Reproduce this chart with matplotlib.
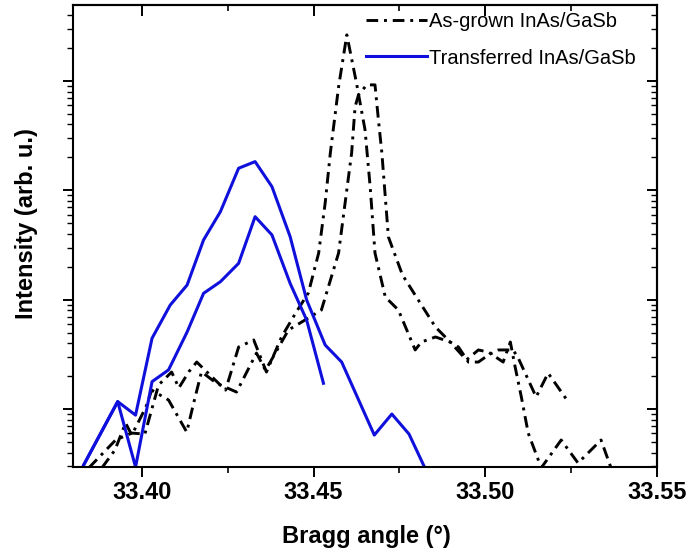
import matplotlib
matplotlib.use('Agg')
import matplotlib.pyplot as plt
from matplotlib.ticker import MultipleLocator, NullFormatter, FormatStrFormatter, LogLocator
from matplotlib.lines import Line2D

plt.rcParams['font.family'] = ['Liberation Sans', 'DejaVu Sans']

# ---------------- data ----------------
asgrown_a_x = [33.3846, 33.3924, 33.3971, 33.4009, 33.4049, 33.4087, 33.4108, 33.4137, 33.4160,
               33.4244, 33.4282, 33.4326, 33.4363, 33.4407, 33.4448, 33.4485, 33.4515, 33.4534,
               33.4549, 33.4573, 33.4597, 33.4625, 33.4650, 33.4665, 33.4679, 33.4709, 33.4747,
               33.4796, 33.4814, 33.4855, 33.4898, 33.4945, 33.4980, 33.5009, 33.5052, 33.5073,
               33.5087, 33.5105, 33.5125, 33.5163, 33.5221, 33.5270, 33.5337, 33.5366]
asgrown_a_y = [2.9, 5.21, 6.03, 5.9, 16.6, 21.8, 15.6, 21.9, 26.9,
               14.9, 36.9, 42.8, 21.8, 45.6, 75.5, 115.2, 267, 767,
               2198, 8836, 26400, 9610, 3569, 1074, 267, 105.8, 80.5,
               34.7, 41.0, 45.6, 41.0, 28.1, 34.7, 33.2, 26.9, 41.0,
               24.2, 12.9, 6.03, 2.9, 5.21, 3.21, 5.21, 2.9]

asgrown_b_x = [33.3884, 33.3922, 33.3953, 33.3971, 33.4012, 33.4029, 33.4078, 33.4131, 33.4151,
               33.4174, 33.4218, 33.4276, 33.4334, 33.4360, 33.4374, 33.4427, 33.4485, 33.4523,
               33.4573, 33.4592, 33.4611, 33.4621, 33.4631, 33.4655, 33.4679, 33.4689, 33.4699,
               33.4718, 33.4759, 33.4855, 33.4898, 33.4922, 33.4951, 33.4980, 33.5009, 33.5038,
               33.5081, 33.5096, 33.5148, 33.5183, 33.5241]
asgrown_b_y = [2.9, 4.22, 7.45, 5.78, 10.4, 14.9, 12.1, 6.16, 11.3,
               21.9, 17.2, 14.3, 32.5, 22.7, 26.9, 52.8, 68.0, 80.5,
               267, 767, 2198, 5794, 7464, 9210, 9210, 4406, 2198,
               375, 168, 56.2, 41.0, 36.9, 26.9, 26.9, 31.2, 34.7,
               34.7, 29.3, 12.9, 21.3, 11.7]

transf_a_x = [33.3831, 33.3930, 33.3982, 33.4030, 33.4083, 33.4132, 33.4180, 33.4229, 33.4282,
              33.4330, 33.4379, 33.4432, 33.4480, 33.4534, 33.4582, 33.4677, 33.4728, 33.4778,
              33.4823]
transf_a_y = [3.08, 11.7, 8.8, 44.4, 89.4, 136, 352, 638, 1592,
              1830, 1081, 377, 99.4, 38.5, 26.9, 5.78, 9.0, 5.91,
              2.95]

transf_b_x = [33.3831, 33.3930, 33.3982, 33.4030, 33.4078, 33.4132, 33.4180, 33.4229, 33.4282,
              33.4330, 33.4379, 33.4432, 33.4480, 33.4529]
transf_b_y = [3.08, 11.7, 2.95, 17.8, 22.8, 50.6, 114.4, 146, 215,
              574, 391, 141, 65.2, 17.2]

legend_labels = ['As-grown InAs/GaSb', 'Transferred InAs/GaSb']
x_ticks = [33.40, 33.45, 33.50, 33.55]

# ---------------- figure ----------------
BLACK = '#000000'
BLUE = '#1010dc'
dashdot = (0, (4.0, 2.0, 1.0, 2.0))

fig = plt.figure(figsize=(6.89, 5.56), dpi=100)
ax = fig.add_axes([0.106, 0.1606, 0.8476, 0.8304])

ax.plot(asgrown_a_x, asgrown_a_y, color=BLACK, lw=2.1, linestyle=dashdot)
ax.plot(asgrown_b_x, asgrown_b_y, color=BLACK, lw=2.1, linestyle=dashdot)
ax.plot(transf_a_x, transf_a_y, color=BLUE, lw=2.2)
ax.plot(transf_b_x, transf_b_y, color=BLUE, lw=2.2)

ax.set_yscale('log')
ax.set_xlim(33.38, 33.55)
ax.set_ylim(2.97, 49500)

for s in ax.spines.values():
    s.set_linewidth(1.5)

ax.set_xticks(x_ticks)
ax.xaxis.set_major_formatter(FormatStrFormatter('%.2f'))
ax.xaxis.set_minor_locator(MultipleLocator(0.025))
ax.tick_params(axis='x', which='major', direction='out', length=7, width=1.4,
               labelsize=17, pad=3, top=False)
ax.tick_params(axis='x', which='minor', direction='out', length=4, width=1.2, top=False)
for lab in ax.get_xticklabels():
    lab.set_fontweight('bold')

ax.yaxis.set_major_locator(LogLocator(base=10, numticks=20))
ax.yaxis.set_minor_locator(LogLocator(base=10, subs=range(2, 10), numticks=20))
ax.yaxis.set_major_formatter(NullFormatter())
ax.yaxis.set_minor_formatter(NullFormatter())
ax.tick_params(axis='y', which='major', direction='out', length=7, width=1.4, right=False)
ax.tick_params(axis='y', which='minor', direction='out', length=4, width=1.0, right=False)

# mirrored axes with inward ticks
secx = ax.secondary_xaxis('top')
secx.set_xticks(x_ticks)
secx.xaxis.set_minor_locator(MultipleLocator(0.025))
secx.xaxis.set_major_formatter(NullFormatter())
secx.tick_params(axis='x', which='major', direction='in', length=8, width=1.4)
secx.tick_params(axis='x', which='minor', direction='in', length=4, width=1.2)
secx.spines['top'].set_linewidth(1.5)

secy = ax.secondary_yaxis('right')
secy.yaxis.set_major_locator(LogLocator(base=10, numticks=20))
secy.yaxis.set_minor_locator(LogLocator(base=10, subs=range(2, 10), numticks=20))
secy.yaxis.set_major_formatter(NullFormatter())
secy.yaxis.set_minor_formatter(NullFormatter())
secy.tick_params(axis='y', which='major', direction='in', length=7, width=1.4)
secy.tick_params(axis='y', which='minor', direction='in', length=4, width=1.0)
secy.spines['right'].set_linewidth(1.5)

ax.set_xlabel('Bragg angle (°)', fontsize=17, fontweight='bold', va='center')
ax.xaxis.set_label_coords(0.503, -0.152)
ax.set_ylabel('Intensity (arb. u.)', fontsize=17, fontweight='bold', va='center')
ax.yaxis.set_label_coords(-0.079, 0.526)

handles = [Line2D([], [], color=BLACK, lw=2.1, linestyle=dashdot),
           Line2D([], [], color=BLUE, lw=2.2)]
ax.legend(handles, legend_labels, loc='upper left', bbox_to_anchor=(0.502, 0.984),
          frameon=False, fontsize=14.5, handlelength=3.0, handletextpad=0.1,
          borderpad=0, borderaxespad=0, labelspacing=0.85)

fig.savefig('out.png', dpi=100)
